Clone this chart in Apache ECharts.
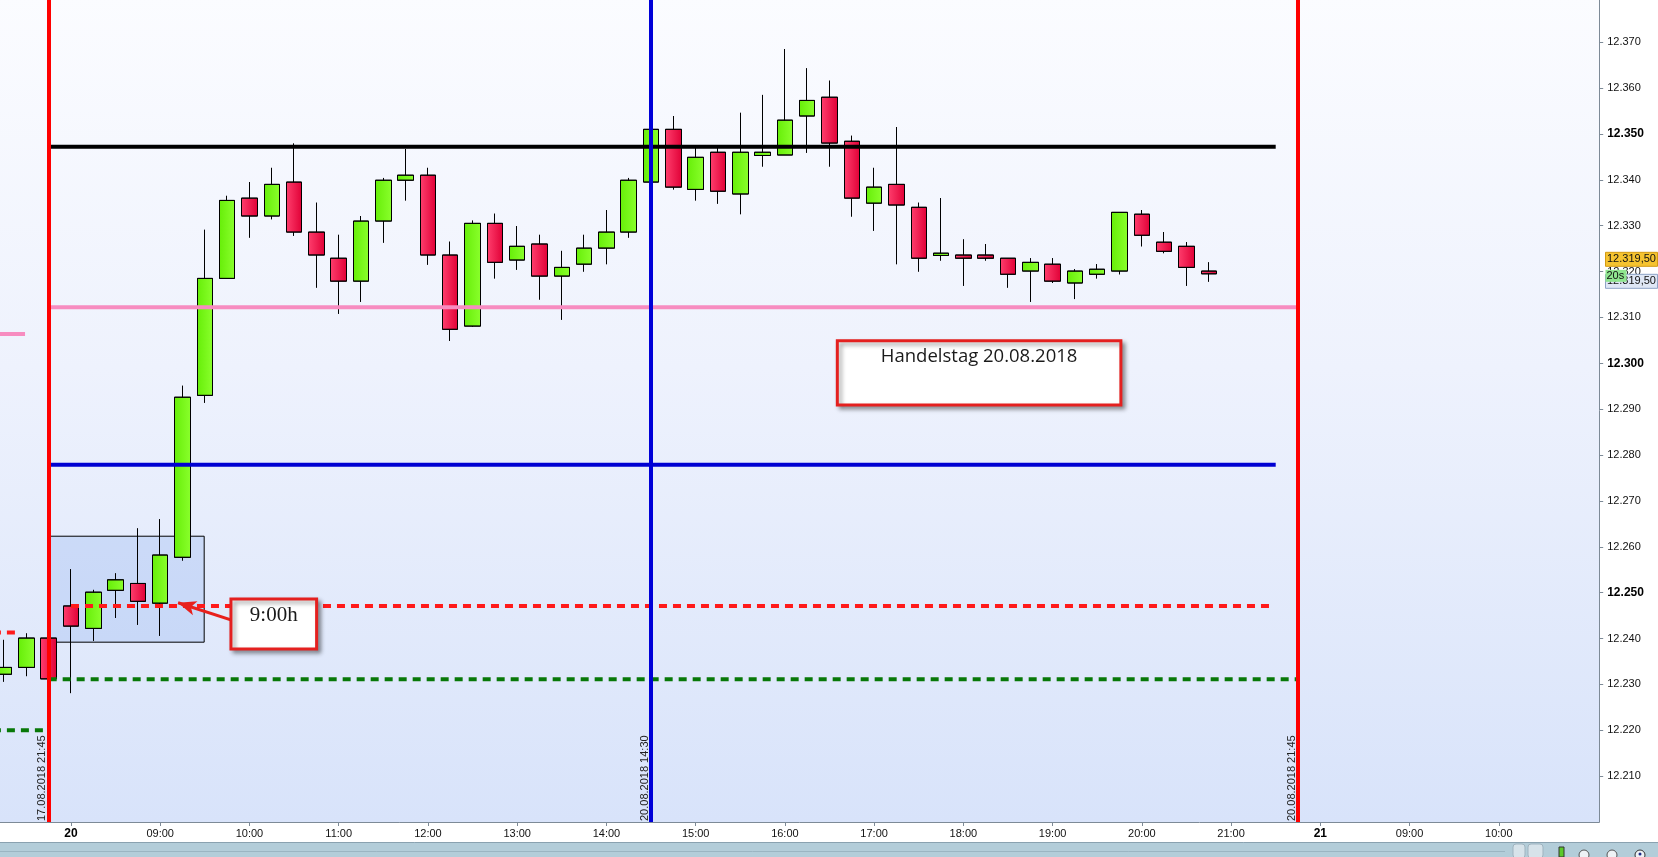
<!DOCTYPE html>
<html>
<head>
<meta charset="utf-8">
<title>Handelstag 20.08.2018</title>
<script src="https://cdn.jsdelivr.net/npm/echarts@6/dist/echarts.min.js"></script>
<style>
html,body{margin:0;padding:0;background:#ffffff;overflow:hidden;}
#chart{width:1658px;height:857px;}
</style>
</head>
<body>
<div id="chart"></div>
<script>
// ---------- categories: 15-minute slots ----------
const categories = [];
['21:15', '21:30', '21:45'].forEach(t => categories.push('17.08 ' + t));
for (let h = 8; h <= 21; h++) ['00', '15', '30', '45'].forEach(m => categories.push('20.08 ' + String(h).padStart(2, '0') + ':' + m));
for (let h = 8; h <= 10; h++) ['00', '15', '30', '45'].forEach(m => categories.push('21.08 ' + String(h).padStart(2, '0') + ':' + m));
categories.push('21.08 11:00');

// ---------- tick labels ----------
const xTickLabels = ['20.08 08:00', '20.08 09:00', '20.08 10:00', '20.08 11:00', '20.08 12:00', '20.08 13:00',
  '20.08 14:00', '20.08 15:00', '20.08 16:00', '20.08 17:00', '20.08 18:00', '20.08 19:00', '20.08 20:00',
  '20.08 21:00', '21.08 08:00', '21.08 09:00', '21.08 10:00'];
const yTopLabel = 12380;

// ---------- candles (17.08 21:15 ... 20.08 20:45) ----------
const opens = [12232.2, 12233.7, 12240.1,
  12247.1, 12242.2, 12250.5, 12252.0, 12247.7, 12257.7, 12293.0, 12318.5,
  12336.0, 12332.1, 12339.5, 12328.6, 12322.9, 12317.9, 12331.0, 12339.9,
  12341.0, 12323.6, 12308.1, 12330.5, 12322.5, 12326.0, 12319.0, 12321.6,
  12325.1, 12328.6, 12339.5, 12351.0, 12337.9, 12346.0, 12336.9, 12345.3,
  12345.4, 12353.9, 12358.0, 12348.4, 12334.9, 12339.0, 12334.0, 12323.5,
  12323.6, 12323.6, 12322.9, 12320.1, 12321.6, 12317.5, 12319.4, 12320.1,
  12332.5, 12326.4, 12325.5, 12320.1];
const closes = [12233.7, 12240.1, 12231.2,
  12242.7, 12250.1, 12252.8, 12248.1, 12258.2, 12292.6, 12318.5, 12335.5,
  12332.1, 12339.0, 12328.6, 12323.6, 12317.9, 12331.0, 12339.9, 12341.0,
  12323.6, 12307.4, 12330.5, 12322.0, 12325.5, 12319.0, 12320.9, 12325.1,
  12328.6, 12339.9, 12351.0, 12338.4, 12344.9, 12337.5, 12346.0, 12346.0,
  12353.0, 12357.3, 12348.0, 12336.0, 12338.4, 12334.5, 12322.9, 12324.0,
  12322.9, 12322.9, 12319.4, 12322.0, 12317.9, 12320.1, 12320.5, 12332.9,
  12327.9, 12324.4, 12320.9, 12319.5];
const lows = [12230.6, 12231.8, 12231.2,
  12228.1, 12239.5, 12244.5, 12243.0, 12240.6, 12257.0, 12291.4, 12318.5,
  12327.4, 12331.4, 12327.8, 12316.5, 12310.8, 12313.4, 12326.3, 12335.5,
  12321.5, 12304.9, 12308.0, 12318.5, 12320.4, 12313.9, 12309.5, 12320.0,
  12321.6, 12327.4, 12339.5, 12337.9, 12335.5, 12334.8, 12332.5, 12342.9,
  12345.4, 12345.9, 12342.9, 12332.0, 12328.9, 12321.6, 12320.0, 12322.4,
  12316.9, 12322.4, 12316.5, 12313.4, 12317.5, 12314.0, 12318.5, 12319.4,
  12325.5, 12324.0, 12316.9, 12317.8];
const highs = [12239.7, 12241.1, 12240.1,
  12255.1, 12250.6, 12254.2, 12264.0, 12266.0, 12295.1, 12329.1, 12336.5,
  12339.5, 12342.6, 12347.9, 12335.0, 12328.0, 12332.1, 12340.4, 12346.7,
  12342.6, 12326.5, 12331.1, 12332.6, 12329.9, 12328.0, 12324.5, 12328.0,
  12333.4, 12340.4, 12351.0, 12353.9, 12347.1, 12347.1, 12354.6, 12358.5,
  12368.5, 12364.3, 12361.6, 12349.6, 12342.6, 12351.5, 12335.0, 12336.0,
  12327.0, 12326.0, 12322.9, 12322.9, 12322.9, 12320.5, 12321.6, 12332.9,
  12333.4, 12328.6, 12326.4, 12322.0];

// ---------- horizontal levels (price, start slot, end slot) ----------
const levelPrices = [12347.2, 12277.9, 12312.2, 12247.1, 12231.1, 12306.4, 12241.3, 12220.0];
const levelFrom = [2, 2, 2, 3, 2, -0.5, -0.5, -0.5];
const levelTo = [57, 57, 58, 56.7, 58, 0.94, 0.71, 1.93];

// ---------- vertical session markers ----------
const markerTimes = ['17.08 21:45', '20.08 14:30', '20.08 21:45'];
const markerLabels = ['17.08.2018 21:45', '20.08.2018 14:30', '20.08.2018 21:45'];

// ---------- annotations ----------
const noteTexts = ['9:00h', 'Handelstag 20.08.2018'];

// ================= styles / build =================
const FONT = '"Liberation Sans", Arial, sans-serif';
const AXIS_GRAY = '#7d8a97';
const at = (name, frac) => categories.indexOf(name) + (frac || 0);
const G = echarts.graphic.LinearGradient;

const levelStyles = [
  { color: '#000000', width: 4, type: 'solid' },
  { color: '#0000d2', width: 4, type: 'solid' },
  { color: '#f78cc0', width: 4, type: 'solid' },
  { color: '#ff1a1a', width: 4, type: [8, 6] },
  { color: '#087808', width: 4, type: [8, 6] },
  { color: '#f78cc0', width: 4, type: 'solid' },
  { color: '#ff1a1a', width: 4, type: [8, 6] },
  { color: '#087808', width: 4, type: [8, 6] }
];
const markerColors = ['#ff0000', '#0000d8', '#ff0000'];

const candleData = opens.map((o, k) => [o, closes[k], lows[k], highs[k]]);

const chart = echarts.init(document.getElementById('chart'), null, { renderer: 'canvas' });

function fmtPrice(v) {
  const parts = v.toFixed(2).split('.');
  const i = parts[0];
  return i.slice(0, i.length - 3) + '.' + i.slice(-3) + ',' + parts[1];
}

const series = [];

// opening range box (below candles)
series.push({
  type: 'line', xAxisIndex: 1, yAxisIndex: 0, data: [], silent: true, z: 1,
  markArea: {
    z: 1, silent: true,
    itemStyle: { color: 'rgba(160,188,242,0.38)', borderColor: '#000', borderWidth: 1 },
    label: { show: false },
    data: [[{ coord: [at('17.08 21:45', 0.03), 12262.3] }, { coord: [at('20.08 09:30', -0.03), 12239.2] }]]
  }
});

// candles
series.push({
  type: 'candlestick', xAxisIndex: 0, yAxisIndex: 0, z: 2,
  barWidth: 16,
  data: candleData,
  itemStyle: {
    color: new G(0, 0, 1, 0, [{ offset: 0, color: '#66ee08' }, { offset: 1, color: '#8aff2c' }]),
    color0: new G(0, 0, 1, 0, [{ offset: 0, color: '#ff3f6e' }, { offset: 1, color: '#e00036' }]),
    borderColor: '#000', borderColor0: '#000', borderWidth: 1
  }
});

// horizontal levels
levelPrices.forEach((p, k) => {
  series.push({
    type: 'line', xAxisIndex: 1, yAxisIndex: 0, silent: true, z: 4,
    symbol: 'none',
    data: [[levelFrom[k], p], [levelTo[k], p]],
    lineStyle: { color: levelStyles[k].color, width: levelStyles[k].width, type: levelStyles[k].type, cap: 'butt' }
  });
});

// vertical markers
series.push({
  type: 'line', xAxisIndex: 1, yAxisIndex: 0, data: [], silent: true, z: 5,
  markLine: {
    z: 5, silent: true, symbol: ['none', 'none'],
    label: { show: true, position: 'insideStartTop', distance: [1, 1], color: '#222', fontSize: 11, fontFamily: FONT },
    data: markerTimes.map((t, k) => ({
      xAxis: at(t),
      lineStyle: { color: markerColors[k], width: 4, type: 'solid' },
      label: { formatter: markerLabels[k] }
    }))
  }
});

// annotations (boxes + arrow)
series.push({
  type: 'line', xAxisIndex: 1, yAxisIndex: 0, data: [], silent: true, z: 10,
  markLine: {
    z: 9, silent: true, symbol: ['none', 'arrow'], symbolSize: [11, 18],
    lineStyle: { color: '#e8201c', width: 3, type: 'solid' },
    label: { show: false },
    data: [[{ coord: [at('20.08 08:00', 7.65), 12243.3] }, { coord: [at('20.08 08:00', 4.8), 12247.8] }]]
  },
  markArea: {
    z: 10, silent: true,
    itemStyle: {
      color: '#ffffff', borderColor: '#e4201f', borderWidth: 3,
      shadowBlur: 4, shadowOffsetX: 3, shadowOffsetY: 3, shadowColor: 'rgba(0,0,0,0.35)'
    },
    data: [
      [{
        name: noteTexts[0], coord: [at('20.08 08:00', 7.17), 12248.6],
        label: { show: true, position: 'insideTop', distance: 5, fontFamily: '"Liberation Serif", "Times New Roman", serif', fontSize: 21, lineHeight: 25, color: '#1a1a1a' }
      }, { coord: [at('20.08 08:00', 11.01), 12237.7] }],
      [{
        name: noteTexts[1], coord: [at('20.08 08:00', 34.35), 12304.9],
        label: { show: true, position: 'insideTop', distance: 6, fontFamily: '"Open Sans", "Noto Sans", sans-serif', fontSize: 18.5, lineHeight: 23, color: '#1a1a1a' }
      }, { coord: [at('20.08 08:00', 47.06), 12290.9] }]
    ]
  }
});

const option = {
  animation: false,
  backgroundColor: '#ffffff',
  grid: {
    left: -7.1, right: 58.8, top: -3.7, bottom: 35,
    containLabel: false, outerBoundsMode: 'none',
    show: true, borderWidth: 0,
    backgroundColor: new G(0, 0, 0, 1, [
      { offset: 0, color: '#fbfcff' },
      { offset: 0.45, color: '#eef2fd' },
      { offset: 1, color: '#d8e3fa' }
    ])
  },
  xAxis: [{
    type: 'category', data: categories, boundaryGap: true,
    axisLine: { show: true, onZero: false, lineStyle: { color: AXIS_GRAY, width: 1 } },
    axisTick: { show: true, alignWithLabel: true, length: 4, interval: (i, name) => xTickLabels.includes(name), lineStyle: { color: AXIS_GRAY } },
    axisLabel: {
      interval: (i, name) => xTickLabels.includes(name),
      margin: 6, color: '#111', fontSize: 11, fontFamily: FONT,
      formatter: name => {
        const t = name.split(' ')[1];
        if (t === '08:00') return '{b|' + name.slice(0, 2) + '}';
        return t;
      },
      rich: { b: { fontWeight: 'bold', fontSize: 12, fontFamily: FONT, color: '#000' } }
    },
    splitLine: { show: false }
  }, {
    type: 'value', min: -0.5, max: categories.length - 0.5, show: false,
    axisLine: { onZero: false }
  }],
  yAxis: {
    type: 'value', position: 'right', min: 12200, max: 12380, interval: 10,
    axisLine: { show: true, onZero: false, lineStyle: { color: AXIS_GRAY, width: 1 } },
    axisTick: { show: true, length: 4, lineStyle: { color: AXIS_GRAY } },
    splitLine: { show: false },
    axisLabel: {
      showMinLabel: false, showMaxLabel: true, margin: 8, color: '#111', fontSize: 11, fontFamily: FONT,
      formatter: v => {
        const s = (v / 1000).toFixed(3);
        return v % 50 === 0 ? '{b|' + s + '}' : '{n|' + s + '}';
      },
      rich: {
        b: { fontWeight: 'bold', fontSize: 12, fontFamily: FONT, color: '#000' },
        n: { fontSize: 11, fontFamily: FONT, color: '#111' }
      }
    }
  },
  series: series
};
chart.setOption(option);

// ---- price tags on the right axis + bottom scroll strip ----
const lastClose = closes[closes.length - 1];
const py = chart.convertToPixel({ yAxisIndex: 0 }, lastClose);
const pyTop = chart.convertToPixel({ yAxisIndex: 0 }, yTopLabel);
const tagFont = '11px "Liberation Sans", Arial, sans-serif';
chart.setOption({
  graphic: [
    { type: 'text', silent: true, z: 50, x: 1608, y: pyTop, style: { text: (yTopLabel / 1000).toFixed(3), font: tagFont, fill: '#111', verticalAlign: 'middle' } },
    { type: 'rect', silent: true, z: 100, shape: { x: 0, y: 842, width: 1658, height: 15 }, style: { fill: '#b3cdd9' } },
    { type: 'line', silent: true, z: 101, shape: { x1: 0, y1: 842.5, x2: 1658, y2: 842.5 }, style: { stroke: '#8aa2b0', lineWidth: 1 } },
    { type: 'line', silent: true, z: 101, shape: { x1: 0, y1: 851.5, x2: 1505, y2: 851.5 }, style: { stroke: '#9bb5c2', lineWidth: 1 } },
    { type: 'rect', silent: true, z: 102, shape: { x: 1513, y: 844, width: 12, height: 14, r: 3 }, style: { fill: '#d7e3ea', stroke: '#9fb3bf' } },
    { type: 'rect', silent: true, z: 102, shape: { x: 1528, y: 844, width: 15, height: 14, r: 3 }, style: { fill: '#d7e3ea', stroke: '#9fb3bf' } },
    { type: 'rect', silent: true, z: 102, shape: { x: 1559, y: 847, width: 5, height: 10 }, style: { fill: '#5cc92a', stroke: '#333' } },
    { type: 'circle', silent: true, z: 102, shape: { cx: 1584, cy: 855, r: 5 }, style: { fill: '#eef2f5', stroke: '#555' } },
    { type: 'circle', silent: true, z: 102, shape: { cx: 1612, cy: 855, r: 5 }, style: { fill: '#eef2f5', stroke: '#555' } },
    { type: 'circle', silent: true, z: 102, shape: { cx: 1640, cy: 855, r: 5 }, style: { fill: '#eef2f5', stroke: '#333' } },
    { type: 'circle', silent: true, z: 103, shape: { cx: 1640, cy: 854, r: 1.5 }, style: { fill: '#1a2a8a' } },

    { type: 'rect', silent: true, z: 110, shape: { x: 1605.5, y: py - 21.5, width: 52, height: 14 }, style: { fill: '#f5c330', stroke: '#d39a12', lineWidth: 1 } },
    { type: 'text', silent: true, z: 111, x: 1607, y: py - 14.5, style: { text: fmtPrice(lastClose), font: tagFont, fill: '#111', verticalAlign: 'middle' } },
    { type: 'rect', silent: true, z: 110, shape: { x: 1605.5, y: py + 0.5, width: 52, height: 14 }, style: { fill: '#dfe7f5', stroke: '#8ea3c6', lineWidth: 1 } },
    { type: 'text', silent: true, z: 111, x: 1607, y: py + 7.5, style: { text: fmtPrice(lastClose), font: tagFont, fill: '#111', verticalAlign: 'middle' } },
    { type: 'rect', silent: true, z: 112, shape: { x: 1605.5, y: py - 4, width: 21, height: 12 }, style: { fill: '#8fe68f', stroke: '#8fe68f', lineWidth: 0 } },
    { type: 'text', silent: true, z: 113, x: 1606.5, y: py + 2, style: { text: '20s', font: tagFont, fill: '#111', verticalAlign: 'middle' } }
  ]
});
</script>
</body>
</html>
